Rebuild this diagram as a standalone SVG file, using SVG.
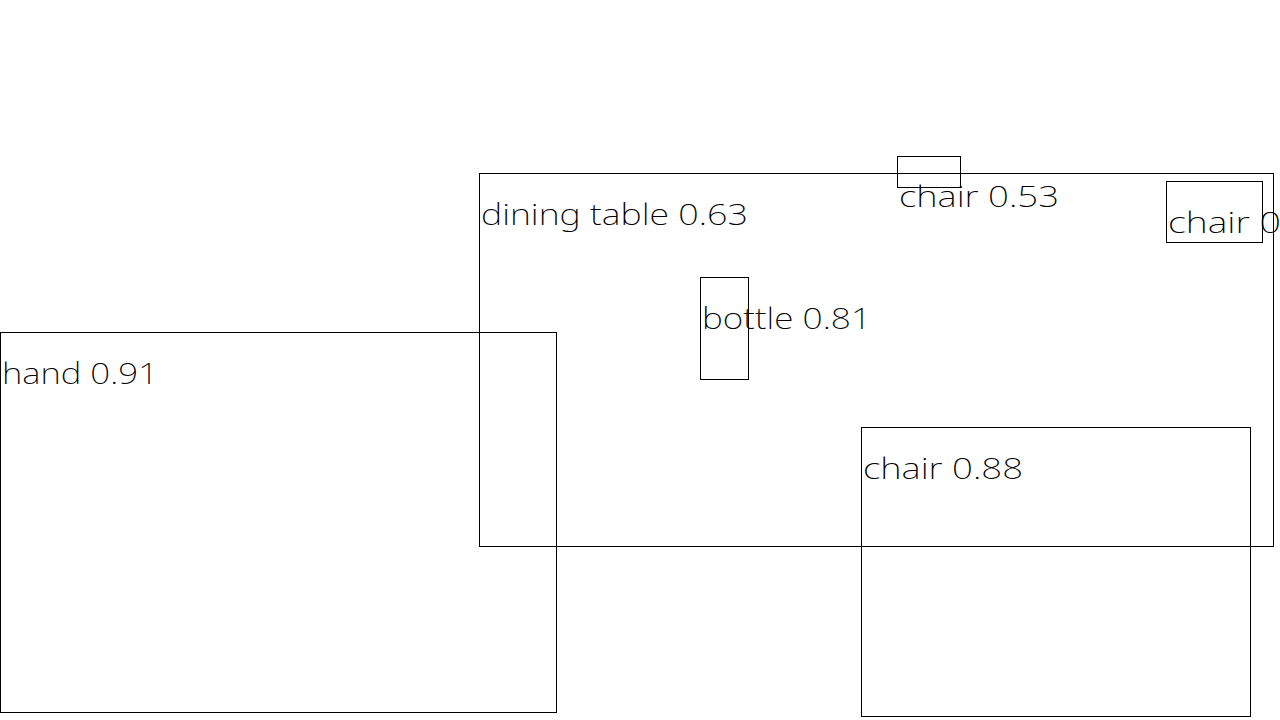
<svg xmlns="http://www.w3.org/2000/svg" width="1280" height="720" viewBox="0 0 1280 720">
<style>
rect.box{fill:none;stroke:#000;stroke-width:1;shape-rendering:crispEdges}
text.lbl{font-family:"Noto Sans","DejaVu Sans",sans-serif;font-weight:200;font-size:30px;fill:#000}
</style>
<rect width="1280" height="720" fill="#fff"/>
<g id="dining-table">
<rect class="box" x="479.5" y="173.5" width="794" height="373"/>
<text class="lbl" x="481" y="225" textLength="267" lengthAdjust="spacingAndGlyphs">dining table 0.63</text>
</g>
<g id="chair-053">
<rect class="box" x="897.5" y="156.5" width="63" height="31"/>
<text class="lbl" x="899" y="207" textLength="160" lengthAdjust="spacingAndGlyphs">chair 0.53</text>
</g>
<g id="chair-0">
<rect class="box" x="1166.5" y="181.5" width="96" height="61"/>
<text class="lbl" x="1168" y="233" textLength="113" lengthAdjust="spacingAndGlyphs">chair 0</text>
</g>
<g id="bottle">
<rect class="box" x="700.5" y="277.5" width="48" height="102"/>
<text class="lbl" x="702" y="329" textLength="169" lengthAdjust="spacingAndGlyphs">bottle 0.81</text>
</g>
<g id="hand">
<rect class="box" x="0.5" y="332.5" width="556" height="380"/>
<text class="lbl" x="2" y="384" textLength="156" lengthAdjust="spacingAndGlyphs">hand 0.91</text>
</g>
<g id="chair-088">
<rect class="box" x="861.5" y="427.5" width="389" height="289"/>
<text class="lbl" x="863" y="479" textLength="160" lengthAdjust="spacingAndGlyphs">chair 0.88</text>
</g>
</svg>
